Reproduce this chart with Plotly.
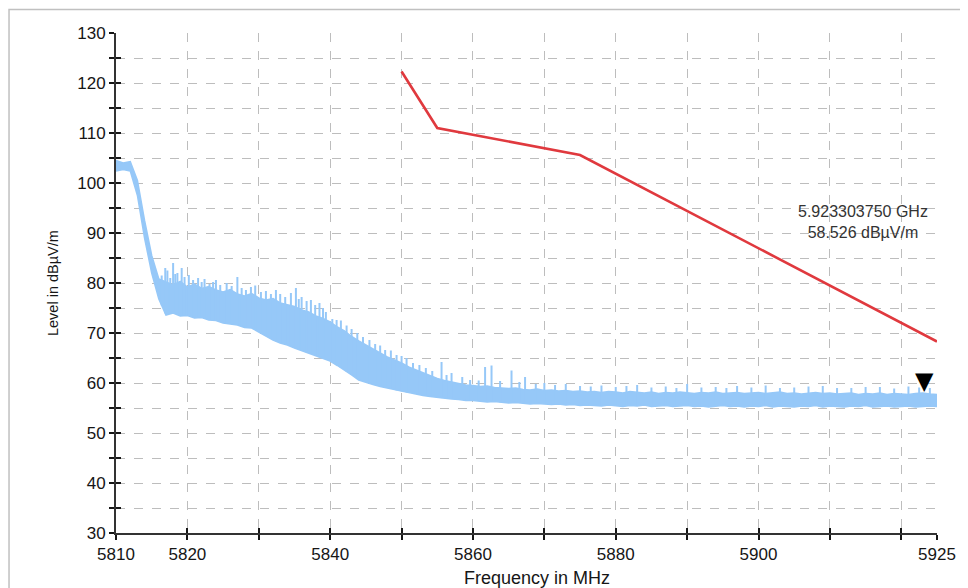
import numpy as np
import plotly.graph_objects as go

# ---------------- data ----------------
env_freq = list(range(5810, 5926))  # MHz, 1 MHz steps

env_upper = [
    104.5, 104.0, 104.3, 100.5, 92.5, 85.5, 80.8, 80.2, 79.6, 80.3,
    79.2, 79.8, 78.9, 79.3, 78.6, 78.2, 78.7, 77.8, 77.4, 77.9,
    77.0, 76.6, 76.9, 76.0, 75.6, 75.3, 74.6, 74.2, 73.4, 72.9,
    72.2, 71.2, 70.4, 69.3, 68.4, 67.6, 66.8, 66.0, 65.2, 64.6,
    64.0, 63.2, 62.6, 62.0, 61.5, 60.9, 60.5, 60.2, 59.8, 59.6,
    59.5, 59.3, 59.4, 59.1, 59.0, 58.9, 59.0, 58.7, 58.6, 58.8,
    58.5, 58.6, 58.4, 58.5, 58.3, 58.4, 58.2, 58.3, 58.1, 58.3,
    58.2, 58.0, 58.3, 58.1, 58.0, 58.2, 57.9, 58.1, 58.0, 58.2,
    58.0, 57.9, 58.1, 58.0, 58.2, 57.9, 58.0, 58.1, 57.9, 58.0,
    58.1, 57.9, 58.0, 58.2, 57.9, 58.0, 57.8, 58.0, 58.1, 57.9,
    58.0, 57.8, 57.9, 58.0, 57.7, 57.9, 57.8, 58.0, 57.7, 57.9,
    57.8, 57.7, 57.9, 58.0, 57.8, 57.7,
]

env_lower = [
    102.4, 102.7, 102.4, 97.5, 89.0, 82.0, 76.8, 73.6, 74.0, 73.4,
    73.5, 73.0, 73.1, 72.6, 72.5, 72.0, 71.8, 71.6, 71.1, 71.0,
    70.2, 69.4, 68.6, 68.0, 67.6, 67.0, 66.5, 66.0, 65.4, 64.9,
    64.4, 63.5, 62.6, 61.6, 60.6, 60.1, 59.7, 59.3, 59.0, 58.6,
    58.3, 58.0, 57.8, 57.5, 57.3, 57.1, 56.9, 56.8, 56.7, 56.5,
    56.5, 56.4, 56.2, 56.3, 56.1, 56.0, 56.1, 55.9, 55.8, 55.9,
    55.8, 55.7, 55.8, 55.6, 55.7, 55.5, 55.6, 55.5, 55.4, 55.6,
    55.5, 55.3, 55.5, 55.4, 55.6, 55.3, 55.4, 55.5, 55.3, 55.4,
    55.5, 55.3, 55.4, 55.2, 55.4, 55.5, 55.3, 55.4, 55.2, 55.4,
    55.3, 55.5, 55.2, 55.4, 55.3, 55.2, 55.4, 55.3, 55.5, 55.2,
    55.4, 55.3, 55.2, 55.4, 55.3, 55.5, 55.2, 55.3, 55.4, 55.2,
    55.3, 55.4, 55.2, 55.3, 55.4, 55.3,
]

spike_freq = [
    5816.4, 5816.9, 5817.2, 5817.6, 5818.0, 5818.3, 5818.6, 5819.2, 5819.6, 5820.2,
    5820.8, 5821.5, 5822.0, 5822.4, 5823.1, 5823.6, 5824.0, 5824.6, 5825.5, 5826.2,
    5827.0, 5827.6, 5828.2, 5828.9, 5829.5, 5830.3, 5831.0, 5831.7, 5832.4, 5833.0,
    5833.7, 5834.5, 5835.2, 5835.6, 5836.0, 5836.7, 5837.3, 5837.9, 5838.5, 5839.0,
    5839.4, 5840.3, 5840.9, 5841.5, 5842.3, 5843.0, 5843.8, 5844.6, 5845.5, 5846.3,
    5847.0, 5847.7, 5848.5, 5849.3, 5850.0, 5850.7, 5851.6, 5852.5, 5853.4, 5854.3,
    5855.6, 5856.3, 5857.0, 5858.5, 5859.6, 5860.8, 5861.7, 5862.6, 5863.8, 5865.4,
    5866.5, 5867.3, 5868.8, 5870.0, 5871.5, 5873.0, 5875.0, 5876.5, 5878.0, 5880.0,
    5881.5, 5883.0, 5885.0, 5887.0, 5888.5, 5890.0, 5892.0, 5894.0, 5895.5, 5897.0,
    5899.0, 5901.0, 5903.0, 5905.0, 5907.0, 5909.0, 5911.0, 5913.0, 5915.0, 5917.0,
    5919.0, 5921.0, 5922.5, 5924.0,
]
spike_level = [
    81.5, 83.0, 82.5, 81.0, 84.0, 81.8, 82.0, 83.0, 81.2, 81.6,
    80.6, 81.0, 80.2, 80.8, 79.8, 80.2, 80.6, 79.6, 80.0, 79.4,
    81.2, 79.0, 78.6, 79.2, 79.5, 78.2, 78.4, 77.8, 78.6, 77.8,
    77.2, 78.0, 79.0, 76.8, 77.2, 76.4, 76.6, 75.6, 76.0, 75.0,
    74.2, 72.8, 72.6, 72.5, 71.5, 70.8, 70.0, 69.2, 68.6, 67.8,
    67.5, 66.6, 66.5, 65.6, 65.4, 65.0, 64.0, 63.6, 63.0, 62.4,
    64.2, 61.6, 62.0, 61.2, 60.6, 60.5, 63.2, 63.5, 60.4, 62.5,
    60.2, 61.2, 59.8, 60.0, 59.6, 59.8, 59.4, 59.3, 59.5, 59.2,
    59.4, 59.6, 59.1, 59.3, 59.0, 59.8, 59.1, 59.2, 59.0, 59.4,
    59.1, 59.5, 59.0, 59.1, 59.3, 59.4, 59.0, 59.0, 59.2, 59.2,
    58.9, 59.3, 59.1, 59.0,
]

limit_freq = [5850, 5855, 5875, 5925]
limit_level = [122.3, 111.0, 105.6, 68.3]

marker_freq = 5923.30375
marker_level = 58.526
marker_text = "5.923303750 GHz<br>58.526 dBµV/m"

x_tickvals = [5810, 5820, 5830, 5840, 5850, 5860, 5870, 5880, 5890, 5900, 5910, 5920, 5925]
x_ticktext = ["5810", "5820", "", "5840", "", "5860", "", "5880", "", "5900", "", "", "5925"]
y_tickvals = list(range(30, 131, 5))
y_ticktext = [str(v) if v % 10 == 0 else "" for v in y_tickvals]

# ---------------- figure ----------------
BLUE = "#96C8F8"
RED = "#E0393E"
FONT = "Liberation Sans, Arial, sans-serif"
INK = "#161616"

fig = go.Figure()

# measured spectrum band (lower envelope then upper envelope -> filled)
fig.add_trace(go.Scatter(x=env_freq, y=env_lower, mode="lines",
                         line=dict(color=BLUE, width=1.5), showlegend=False,
                         hoverinfo="skip"))
fig.add_trace(go.Scatter(x=env_freq, y=env_upper, mode="lines",
                         line=dict(color=BLUE, width=1.5), fill="tonexty",
                         fillcolor=BLUE, showlegend=False))

# spikes from the band up to peak level
base = np.interp(spike_freq, env_freq, env_lower)
sx, sy = [], []
for f, b, p in zip(spike_freq, base, spike_level):
    sx += [f, f, None]
    sy += [b, p, None]
fig.add_trace(go.Scatter(x=sx, y=sy, mode="lines",
                         line=dict(color=BLUE, width=2), showlegend=False))

# limit line
fig.add_trace(go.Scatter(x=limit_freq, y=limit_level, mode="lines",
                         line=dict(color=RED, width=2.6), showlegend=False))

# dummy trace to activate overlay axes (crossing ticks)
fig.add_trace(go.Scatter(x=[None], y=[None], xaxis="x2", yaxis="y2",
                         showlegend=False))

grid = dict(showgrid=True, gridcolor="#BDBDBD", griddash="dash", gridwidth=1)

fig.update_layout(
    width=968, height=588,
    margin=dict(l=108, r=39, t=25, b=63),
    paper_bgcolor="white", plot_bgcolor="white",
    font=dict(family=FONT, size=17, color=INK),
    xaxis=dict(range=[5810, 5925], tickmode="array", tickvals=x_tickvals,
               ticktext=x_ticktext, ticks="outside", ticklen=5, tickwidth=2,
               tickcolor=INK, showline=True, linecolor="#333", linewidth=2,
               zeroline=False, automargin=False, **grid),
    yaxis=dict(range=[30, 130], tickmode="array", tickvals=y_tickvals,
               ticktext=y_ticktext, ticks="outside", ticklen=5, tickwidth=2,
               tickcolor=INK, showline=True, linecolor="#333", linewidth=2,
               zeroline=False, automargin=False, **grid),
    xaxis2=dict(range=[5810, 5925], overlaying="x", anchor="y2", side="bottom",
                tickmode="array", tickvals=x_tickvals, showticklabels=False,
                ticks="inside", ticklen=5, tickwidth=2, tickcolor=INK,
                showgrid=False, zeroline=False, showline=False, automargin=False),
    yaxis2=dict(range=[30, 130], overlaying="y", anchor="x2", side="left",
                tickmode="array", tickvals=y_tickvals, showticklabels=False,
                ticks="inside", ticklen=5, tickwidth=2, tickcolor=INK,
                showgrid=False, zeroline=False, showline=False, automargin=False),
    annotations=[
        dict(text="Level in dBµV/m", xref="paper", yref="paper",
             x=-0.0767, y=0.50, xanchor="center", yanchor="middle",
             textangle=-90, showarrow=False,
             font=dict(size=14.5, color=INK)),
        dict(text="Frequency in MHz", xref="paper", yref="paper",
             x=0.513, y=-0.09, xanchor="center", yanchor="middle",
             showarrow=False, font=dict(size=18, color=INK)),
        dict(text=marker_text, x=5914.6, y=92.2, xanchor="center",
             yanchor="middle", showarrow=False, align="center",
             font=dict(size=16, color="#333")),
        dict(text="▼", x=marker_freq, y=marker_level, showarrow=False,
             xanchor="center", yanchor="bottom", yshift=-7,
             font=dict(family="DejaVu Sans", size=24, color="black")),
    ],
    shapes=[
        dict(type="rect", xref="paper", yref="paper",
             x0=-0.1303, x1=1.034, y0=-0.13, y1=1.047,
             line=dict(color="#C0C0C0", width=1.5), layer="below"),
    ],
)

fig.write_html("out.html")
